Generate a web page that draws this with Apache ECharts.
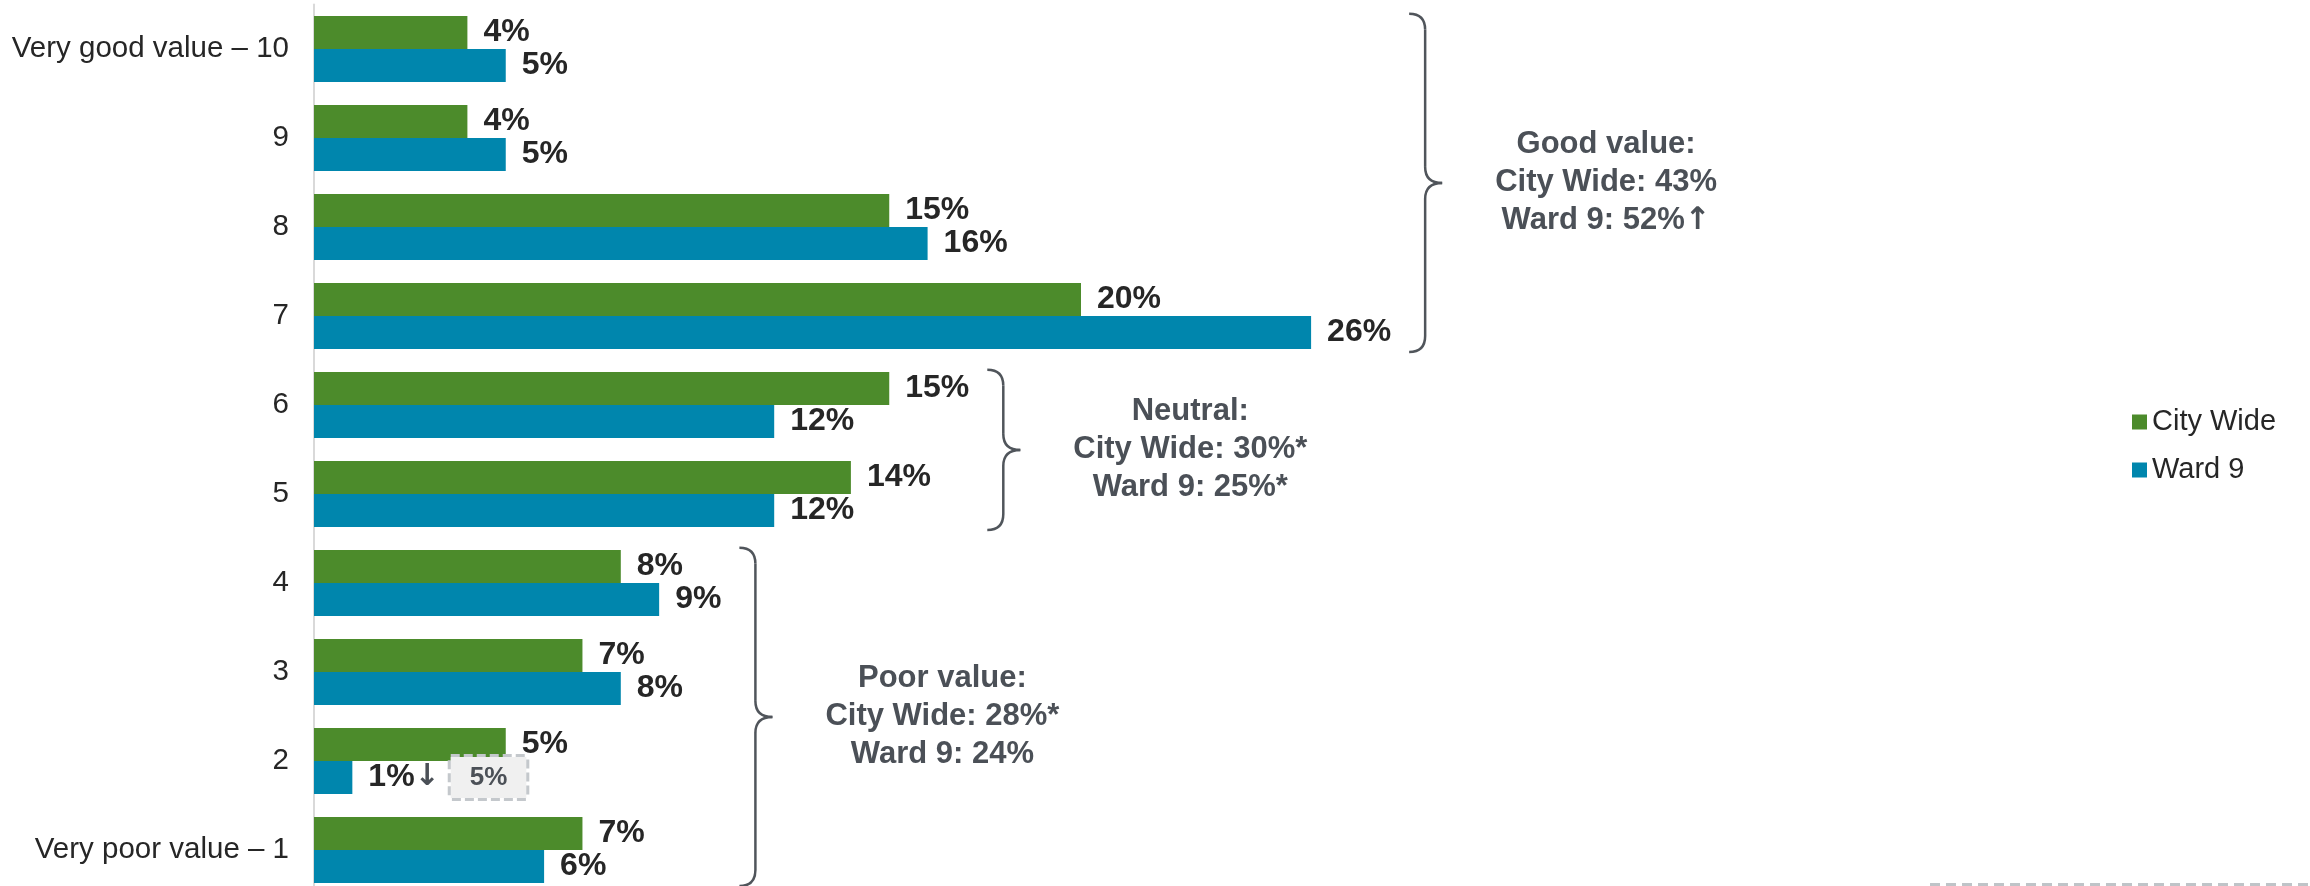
<!DOCTYPE html>
<html><head><meta charset="utf-8">
<script src="https://cdn.jsdelivr.net/npm/echarts@6/dist/echarts.min.js"></script>
<style>html,body{margin:0;padding:0;background:#fff}#c{width:2310px;height:886px}</style>
</head><body><div id="c"></div>
<script>
// ---- data ----
const categories = ['Very good value – 10', '9', '8', '7', '6', '5', '4', '3', '2', 'Very poor value – 1'];
const seriesNames = ['City Wide', 'Ward 9'];
const cityWide = [4, 4, 15, 20, 15, 14, 8, 7, 5, 7];
const ward9 = [5, 5, 16, 26, 12, 12, 9, 8, 1, 6];
const ward9Trend = ['', '', '', '', '', '', '', '', 'down', ''];
const ward9Benchmark = [null, null, null, null, null, null, null, null, 5, null];
const groupTitles = ['Good value:', 'Neutral:', 'Poor value:'];
const groupCityWide = ['City Wide: 43%', 'City Wide: 30%*', 'City Wide: 28%*'];
const groupWard9 = ['Ward 9: 52%↑', 'Ward 9: 25%*', 'Ward 9: 24%'];
const groupFirst = [0, 4, 6];
const groupLast = [3, 5, 9];

// ---- styles ----
const FF = "'Liberation Sans', Arial, Helvetica, sans-serif";
const ARROW_FF = "'DejaVu Sans', sans-serif";
const GREEN = '#4c8b2b';
const BLUE = '#0086ad';
const LABEL_SIZE = 32;
const LABEL_DIST = 16;
const LABEL_FONT = 'bold ' + LABEL_SIZE + 'px ' + FF;
const NOTE_FONT = 'bold 31px ' + FF;
const NOTE_COLOR = '#4b5057';

const mctx = document.createElement('canvas').getContext('2d');
function textW(t, font) { mctx.font = font; return mctx.measureText(t).width; }

const chart = echarts.init(document.getElementById('c'), null, { renderer: 'canvas' });

function ward9Label(p) {
  const i = p.dataIndex;
  let s = '{v|' + p.value + '%}';
  if (ward9Trend[i] === 'down') s += '{arr|↓}';
  else if (ward9Trend[i] === 'up') s += '{arr|↑}';
  if (ward9Benchmark[i] != null) s += '{sp|}{box|' + ward9Benchmark[i] + '%}';
  return s;
}

function renderBrace(params, api) {
  const g = params.dataIndex;
  const band = api.size([0, 1])[1];
  let right = 0;
  for (let k = groupFirst[g]; k <= groupLast[g]; k++) {
    [cityWide[k], ward9[k]].forEach(v => {
      const e = api.coord([v, k])[0] + LABEL_DIST + textW(v + '%', LABEL_FONT);
      right = Math.max(right, e);
    });
  }
  const x0 = right + 18;
  const yTop = api.coord([0, groupFirst[g]])[1] - band * 0.395;
  const yBot = api.coord([0, groupLast[g]])[1] + band * 0.405;
  const ym = (yTop + yBot) / 2;
  const w1 = 16, w2 = 33, r = 16;
  const st = { stroke: '#50555b', lineWidth: 2.5, fill: null };
  const bez = (x1, y1, cx, cy, x2, y2) => ({ type: 'bezierCurve', shape: { x1, y1, cpx1: cx, cpy1: cy, x2, y2 }, style: st });
  const ln = (x1, y1, x2, y2) => ({ type: 'line', shape: { x1, y1, x2, y2 }, style: st });
  const lines = [groupTitles[g], groupCityWide[g], groupWard9[g]];
  const maxW = Math.max.apply(null, lines.map(t => textW(t, NOTE_FONT)));
  const richText = lines.map(t => t.replace(/([↑↓])/g, '{ar|$1}')).join('\n');
  return {
    type: 'group',
    children: [
      bez(x0, yTop, x0 + w1, yTop, x0 + w1, yTop + r),
      ln(x0 + w1, yTop + r, x0 + w1, ym - r),
      bez(x0 + w1, ym - r, x0 + w1, ym, x0 + w2, ym),
      bez(x0 + w2, ym, x0 + w1, ym, x0 + w1, ym + r),
      ln(x0 + w1, ym + r, x0 + w1, yBot - r),
      bez(x0 + w1, yBot - r, x0 + w1, yBot, x0, yBot),
      {
        type: 'text',
        style: {
          text: richText,
          x: x0 + w2 + 53 + maxW / 2,
          y: ym,
          align: 'center',
          verticalAlign: 'middle',
          font: NOTE_FONT,
          lineHeight: 38,
          fill: NOTE_COLOR,
          rich: {
            ar: { font: 'bold 31px ' + ARROW_FF, fill: NOTE_COLOR, lineHeight: 38 }
          }
        }
      }
    ]
  };
}

const option = {
  animation: false,
  backgroundColor: '#ffffff',
  textStyle: { fontFamily: FF },
  grid: { left: 314, top: 4.5, width: 1150.5, height: 890, outerBoundsMode: 'none', containLabel: false },
  xAxis: { type: 'value', min: 0, max: 30, show: false, splitLine: { show: false } },
  yAxis: {
    type: 'category', data: categories, inverse: true,
    axisLine: { show: true, lineStyle: { color: '#d9d9d9', width: 2 } },
    axisTick: { show: false },
    axisLabel: { fontSize: 29.5, color: '#262626', margin: 25, fontFamily: FF }
  },
  legend: {
    data: seriesNames, orient: 'vertical', left: 2127, top: 402,
    itemWidth: 15, itemHeight: 15, itemGap: 18, icon: 'rect', selectedMode: false,
    textStyle: { fontSize: 29, color: '#262626', lineHeight: 30, fontFamily: FF }
  },
  series: [
    {
      name: seriesNames[0], type: 'bar', data: cityWide,
      barGap: '0%', barCategoryGap: '25.8%',
      itemStyle: { color: GREEN },
      label: { show: true, position: 'right', distance: LABEL_DIST, formatter: '{c}%',
        fontSize: LABEL_SIZE, fontWeight: 'bold', color: '#262626', fontFamily: FF }
    },
    {
      name: seriesNames[1], type: 'bar', data: ward9,
      barGap: '0%', barCategoryGap: '25.8%',
      itemStyle: { color: BLUE },
      label: {
        show: true, position: 'right', distance: LABEL_DIST, formatter: ward9Label,
        fontFamily: FF,
        rich: {
          v: { fontSize: LABEL_SIZE, fontWeight: 'bold', color: '#262626', fontFamily: FF },
          arr: { fontSize: 30, fontWeight: 'bold', color: NOTE_COLOR, fontFamily: ARROW_FF },
          sp: { width: 11 },
          box: { fontSize: 26, fontWeight: 'bold', color: NOTE_COLOR, fontFamily: FF,
            backgroundColor: '#f0f0f0', borderColor: '#c4c8cc', borderWidth: 3, borderType: [9, 4],
            padding: [8, 19, 7, 19], lineHeight: 26 }
        }
      }
    },
    {
      type: 'custom', name: 'groups', silent: true, clip: false,
      coordinateSystem: 'cartesian2d',
      data: groupTitles.map((t, i) => [0, groupFirst[i]]),
      renderItem: renderBrace,
      z: 5
    }
  ],
  graphic: [
    { type: 'line', shape: { x1: 1930, y1: 884.5, x2: 2310, y2: 884.5 },
      style: { stroke: '#bfc4c8', lineWidth: 3, lineDash: [10, 6] }, silent: true }
  ]
};
chart.setOption(option);
</script>
</body></html>
